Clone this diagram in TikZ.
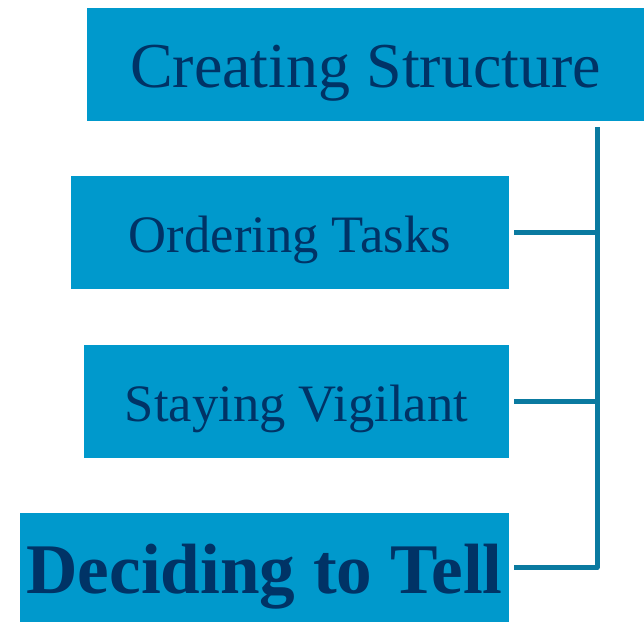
\documentclass[tikz,border=0pt]{standalone}
\usepackage{fontspec}
\setmainfont{Liberation Serif}
\usepackage{tikz}
\usetikzlibrary{positioning}
\definecolor{BoxBlue}{HTML}{0099CC}
\definecolor{LinkBlue}{HTML}{0A7AA0}
\definecolor{TextNavy}{HTML}{003366}

\begin{document}
\begin{tikzpicture}[x=0.5pt, y=-0.5pt,
                      every node/.style={fill=BoxBlue, text=TextNavy, inner sep=0pt, text depth=0pt,
                                         align=center, minimum height=56.5pt},
                      link/.style={draw=LinkBlue, line width=2.5pt, shorten <=2.5pt}]
  \useasboundingbox (0,0) rectangle (644,622);
  \node[minimum width=278.5pt, text height=22.5pt] (top) at (365.5,64.5) {\fontsize{32}{38}\selectfont Creating Structure};
  \node[minimum width=219pt, text height=19.5pt] (order) at (290,232.5) {\fontsize{26.3}{31}\selectfont Ordering Tasks};
  \node[minimum width=212.5pt, text height=20pt] (vigil) at (296.5,401) {\fontsize{26.3}{31}\selectfont Staying Vigilant};
  \node[minimum width=244.5pt, minimum height=54.5pt, text height=25.5pt] (tell) at (264.5,567.5) {\fontsize{35.6}{42}\selectfont\bfseries Deciding to Tell};
  \coordinate (spine) at (597,127);
  \draw[link] (order.east) -| (spine);
  \draw[link] (vigil.east) -| (spine);
  \draw[link, line join=round] (tell.east) -| (spine);
\end{tikzpicture}
\end{document}
